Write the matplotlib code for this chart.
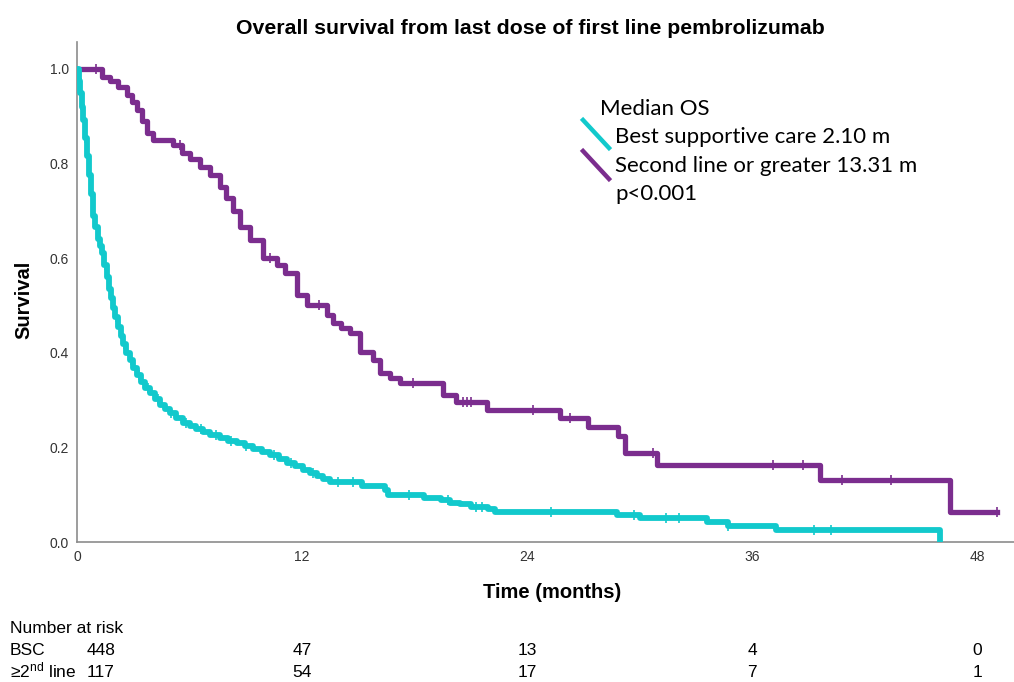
import numpy as np
import matplotlib
matplotlib.use("Agg")
import matplotlib.pyplot as plt

NARROW = ["Liberation Sans Narrow", "Liberation Sans", "DejaVu Sans"]
LEG_FONT = ["Lato", "DejaVu Sans"]
plt.rcParams["mathtext.default"] = "regular"

CYAN = "#12c9cc"
PURPLE = "#7b2d8e"

# Kaplan-Meier step points: time (months) of each drop and survival after it
BSC_T = [0.00, 0.08, 0.16, 0.24, 0.32, 0.42, 0.52, 0.62, 0.72, 0.85, 0.97, 1.10,
         1.22, 1.33, 1.45, 1.58, 1.70, 1.82, 1.92, 2.05, 2.18, 2.32, 2.47, 2.63,
         2.83, 3.00, 3.20, 3.40, 3.62, 3.89, 4.15, 4.45, 4.70, 4.96, 5.30, 5.65,
         6.00, 6.35, 6.72, 7.10, 7.60, 8.05, 8.53, 8.95, 9.40, 9.85, 10.29, 10.75,
         11.20, 11.60, 12.05, 12.45, 12.80, 13.10, 13.49, 15.20, 16.40, 16.60,
         18.50, 19.40, 19.90, 20.40, 21.00, 21.90, 22.30, 28.80, 30.00, 33.60,
         34.70, 37.30, 46.00]
BSC_S = [1.000, 0.975, 0.950, 0.920, 0.892, 0.855, 0.815, 0.775, 0.735, 0.690, 0.665, 0.640,
         0.625, 0.610, 0.585, 0.560, 0.535, 0.515, 0.495, 0.475, 0.455, 0.435, 0.418, 0.400,
         0.385, 0.368, 0.352, 0.338, 0.325, 0.314, 0.302, 0.290, 0.281, 0.273, 0.262, 0.252,
         0.245, 0.239, 0.233, 0.227, 0.220, 0.214, 0.209, 0.203, 0.196, 0.190, 0.184, 0.176,
         0.168, 0.160, 0.152, 0.146, 0.140, 0.133, 0.127, 0.119, 0.110, 0.099,
         0.093, 0.089, 0.082, 0.080, 0.074, 0.070, 0.063, 0.057, 0.051, 0.042,
         0.034, 0.025, 0.000]
BSC_CENS = [0.2, 0.45, 0.7, 0.9, 1.15, 1.5, 1.75, 2.1, 2.5, 2.9, 3.3, 3.8, 4.3, 5.0,
            5.8, 6.6, 7.4, 8.2, 9.0, 10.5, 11.4, 12.6, 13.9, 14.7, 17.7, 19.8, 21.3,
            21.6, 25.3, 29.7, 31.4, 32.1, 34.7, 39.3, 40.2]

SL_T = [0.00, 1.33, 1.76, 2.20, 2.67, 2.95, 3.20, 3.45, 3.73, 4.05, 5.12, 5.60,
        6.05, 6.56, 7.10, 7.63, 7.95, 8.30, 8.69, 9.23, 9.92, 10.67, 11.10, 11.73,
        12.27, 13.33, 13.65, 14.10, 14.56, 15.10, 15.80, 16.16, 16.69, 17.23, 19.52,
        20.20, 21.87, 25.76, 27.25, 28.85, 29.23, 30.93, 39.60, 46.56, 49.07]
SL_S = [1.000, 0.983, 0.975, 0.962, 0.945, 0.930, 0.913, 0.890, 0.865, 0.850, 0.839, 0.822,
        0.810, 0.793, 0.775, 0.750, 0.728, 0.700, 0.666, 0.638, 0.600, 0.585, 0.569, 0.522,
        0.501, 0.480, 0.463, 0.452, 0.442, 0.402, 0.385, 0.357, 0.347, 0.336, 0.311,
        0.296, 0.279, 0.262, 0.243, 0.225, 0.188, 0.163, 0.131, 0.063, 0.063]
SL_CENS = [1.0, 5.5, 10.3, 12.9, 17.9, 20.6, 20.8, 21.0, 24.3, 26.3, 30.7, 37.1,
           38.7, 40.8, 43.4, 49.07]

X_TICKS = [0, 12, 24, 36, 48]
Y_TICKS = [0.0, 0.2, 0.4, 0.6, 0.8, 1.0]
RISK_BSC = [448, 47, 13, 4, 0]
RISK_SL = [117, 54, 17, 7, 1]

LEGEND_LINES = ["Best supportive care 2.10 m", "Second line or greater 13.31 m"]


def censor_y(times, surv, cens):
    t = np.asarray(times)
    s = np.asarray(surv)
    idx = np.searchsorted(t, cens, side="right") - 1
    return s[idx]


fig = plt.figure(figsize=(10.14, 6.82), dpi=100)
ax = fig.add_axes([77 / 1014, 1 - 542 / 682, 937 / 1014, 500 / 682])

ax.step(SL_T, SL_S, where="post", color=PURPLE, lw=3.8, zorder=2)
ax.plot(SL_CENS, censor_y(SL_T, SL_S, SL_CENS), ls="none", marker="|",
        ms=7, mew=1.2, color=PURPLE, zorder=2)
ax.step(BSC_T, BSC_S, where="post", color=CYAN, lw=4.2, zorder=3)
ax.plot(BSC_CENS, censor_y(BSC_T, BSC_S, BSC_CENS), ls="none", marker="|",
        ms=7, mew=1.2, color=CYAN, zorder=3)

ax.set_xlim(0, 49.97)
ax.set_ylim(0, 1.057)
for side in ("top", "right"):
    ax.spines[side].set_visible(False)
for side in ("left", "bottom"):
    ax.spines[side].set_color("#8c8c8c")
    ax.spines[side].set_linewidth(1.2)
ax.set_xticks(X_TICKS)
ax.set_yticks(Y_TICKS)
ax.set_yticklabels([f"{v:.1f}" for v in Y_TICKS])
ax.tick_params(length=0, pad=6, labelsize=10, colors="#333333")
for lab in ax.get_xticklabels() + ax.get_yticklabels():
    lab.set_family(NARROW)

fig.text(530 / 1014, 1 - 28 / 682, "Overall survival from last dose of first line pembrolizumab",
         ha="center", va="center", fontsize=15.3, fontweight="bold", family=NARROW)
fig.text(24 / 1014, 1 - 300 / 682, "Survival", rotation=90, ha="center", va="center",
         fontsize=14.5, fontweight="bold", family=NARROW)
fig.text(552 / 1014, 1 - 593 / 682, "Time (months)", ha="center", va="center",
         fontsize=14.5, fontweight="bold", family=NARROW)

# legend block
fig.text(600 / 1014, 1 - 109 / 682, "Median OS", ha="left", va="center",
         fontsize=16, family=LEG_FONT)
for i, (label, col) in enumerate(zip(LEGEND_LINES, [CYAN, PURPLE])):
    yc = 137 + i * 29
    fig.text(615 / 1014, 1 - yc / 682, label, ha="left", va="center",
             fontsize=16, family=LEG_FONT)
    y0 = yc - 17 + i * 2
    fig.add_artist(plt.Line2D([583 / 1014, 609 / 1014], [1 - y0 / 682, 1 - (y0 + 28) / 682],
                              color=col, lw=3.2, transform=fig.transFigure))
fig.text(615 / 1014, 1 - 194 / 682, "p<0.001", ha="left", va="center",
         fontsize=16, family=LEG_FONT)

# number at risk table (baseline-aligned rows)
fig.text(10 / 1014, 1 - 633 / 682, "Number at risk", ha="left", va="baseline",
         fontsize=12.5, family=NARROW)
row_y = [655, 677]
row_labels = ["BSC", "≥2$^{nd}$ line"]
for y, lab, vals in zip(row_y, row_labels, [RISK_BSC, RISK_SL]):
    fig.text(10 / 1014, 1 - y / 682, lab, ha="left", va="baseline", fontsize=12.5, family=NARROW)
    for j, (t, v) in enumerate(zip(X_TICKS, vals)):
        if j == 0:
            xf = 101 / 1014
        else:
            xd = ax.transData.transform((t, 0))[0]
            xf = fig.transFigure.inverted().transform((xd, 0))[0]
        fig.text(xf, 1 - y / 682, str(v), ha="center", va="baseline",
                 fontsize=12.5, family=NARROW)

fig.savefig("out.png", dpi=100, facecolor="white")
